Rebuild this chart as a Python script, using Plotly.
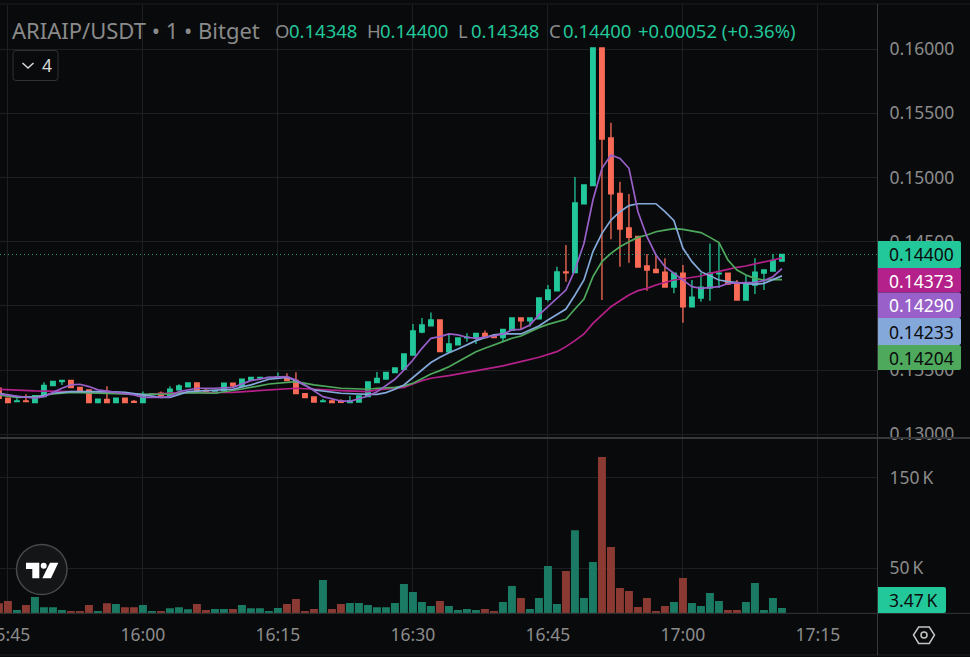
import pandas as pd
import plotly.graph_objects as go

DAY = "2024-01-01 "
times = pd.date_range(DAY + "15:44", DAY + "17:11", freq="1min")

opens = [
 0.13358,0.13280,0.13254,0.13259,0.13246,0.13293,0.13378,0.13409,0.13420,0.13365,
 0.13345,0.13246,0.13272,0.13246,0.13280,0.13256,0.13246,0.13311,0.13319,0.13298,
 0.13345,0.13368,0.13399,0.13342,0.13321,0.13339,0.13397,0.13373,0.13422,0.13438,
 0.13438,0.13441,0.13443,0.13420,0.13316,0.13290,0.13254,0.13259,0.13256,0.13246,
 0.13251,0.13293,0.13402,0.13430,0.13480,0.13506,0.13617,0.13796,0.13843,0.13890,
 0.13641,0.13695,0.13750,0.13750,0.13786,0.13768,0.13752,0.13809,0.13905,0.13882,
 0.13898,0.14051,0.14116,0.14264,0.14258,0.14795,0.14936,0.16008,0.15307,0.14876,
 0.14606,0.14541,0.14310,0.14284,0.14263,0.14146,0.14255,0.13991,0.14061,0.14138,
 0.14248,0.14255,0.14177,0.14045,0.14162,0.14255,0.14271,0.14348]
highs = [
 0.13358,0.13280,0.13280,0.13311,0.13300,0.13404,0.13412,0.13420,0.13420,0.13365,
 0.13345,0.13274,0.13373,0.13280,0.13280,0.13267,0.13332,0.13316,0.13332,0.13373,
 0.13389,0.13399,0.13399,0.13358,0.13339,0.13397,0.13397,0.13428,0.13443,0.13443,
 0.13443,0.13480,0.13474,0.13482,0.13316,0.13290,0.13274,0.13272,0.13272,0.13298,
 0.13298,0.13407,0.13485,0.13482,0.13516,0.13625,0.13859,0.13905,0.13947,0.13890,
 0.13778,0.13750,0.13786,0.13786,0.13807,0.13768,0.13817,0.13905,0.13905,0.13905,
 0.14061,0.14162,0.14305,0.14473,0.15003,0.14941,0.16008,0.16008,0.15426,0.14967,
 0.14871,0.14541,0.14403,0.14396,0.14370,0.14255,0.14318,0.14201,0.14258,0.14486,
 0.14486,0.14255,0.14201,0.14240,0.14370,0.14279,0.14403,0.14400]
lows = [
 0.13280,0.13246,0.13249,0.13249,0.13246,0.13293,0.13378,0.13384,0.13363,0.13332,
 0.13246,0.13246,0.13246,0.13246,0.13246,0.13243,0.13246,0.13311,0.13287,0.13298,
 0.13345,0.13368,0.13339,0.13324,0.13321,0.13339,0.13365,0.13373,0.13417,0.13422,
 0.13438,0.13441,0.13417,0.13316,0.13285,0.13251,0.13249,0.13246,0.13246,0.13246,
 0.13251,0.13293,0.13402,0.13430,0.13480,0.13506,0.13617,0.13786,0.13843,0.13643,
 0.13641,0.13695,0.13721,0.13703,0.13752,0.13752,0.13726,0.13809,0.13817,0.13838,
 0.13898,0.14033,0.14116,0.14188,0.14258,0.14795,0.14936,0.14045,0.14518,0.14305,
 0.14336,0.14302,0.14118,0.14258,0.14146,0.14097,0.13869,0.13991,0.14032,0.14040,
 0.14138,0.14170,0.14045,0.14045,0.14092,0.14123,0.14271,0.14348]
closes = [
 0.13280,0.13246,0.13259,0.13254,0.13300,0.13381,0.13412,0.13420,0.13363,0.13332,
 0.13246,0.13274,0.13246,0.13280,0.13246,0.13249,0.13311,0.13316,0.13300,0.13350,
 0.13376,0.13399,0.13339,0.13324,0.13339,0.13397,0.13376,0.13428,0.13443,0.13443,
 0.13443,0.13448,0.13417,0.13316,0.13285,0.13251,0.13259,0.13246,0.13249,0.13261,
 0.13298,0.13407,0.13435,0.13482,0.13516,0.13625,0.13804,0.13851,0.13890,0.13643,
 0.13703,0.13750,0.13755,0.13786,0.13752,0.13752,0.13817,0.13905,0.13882,0.13905,
 0.14061,0.14123,0.14264,0.14256,0.14801,0.14941,0.16008,0.15299,0.14871,0.14598,
 0.14533,0.14302,0.14279,0.14258,0.14146,0.14255,0.13991,0.14068,0.14146,0.14255,
 0.14255,0.14170,0.14045,0.14170,0.14263,0.14279,0.14354,0.14400]
volumes_k = [
 11,13.7,3.7,9.2,18,6.6,6.6,3.7,2.6,2.6,
 9.2,2.6,11,10.3,6.6,6.6,9.2,2.6,2.6,5.5,
 6.6,4.4,10.3,3.7,4.8,4.8,4.8,9.2,5.5,5.5,
 2.6,5.9,10.3,15.9,2.6,4.8,36.9,4.8,10.3,11.4,
 11.4,9.2,6.6,6.6,11.4,32.5,23.6,12.5,8.1,13.7,
 8.1,3.7,4.8,3.7,4.8,2.6,12.5,30.3,17,4.8,
 17,52.4,10.3,46.9,92,17,56.8,173,73.4,28,
 24.7,7,17,2.6,8.1,12.5,39,11.4,8.1,22.5,
 13.7,3.7,3.7,12.5,33.6,3.7,17,5.9]

ma_purple_t = ["15:44","15:48","15:49","15:51","15:52","15:53","15:54","15:55","15:57","15:59","16:00","16:02","16:03","16:04","16:06","16:08","16:10","16:12","16:14","16:16","16:17","16:18","16:20","16:22","16:23","16:25","16:26","16:27","16:28","16:29","16:30","16:31","16:32","16:33","16:34","16:35","16:36","16:37","16:38","16:39","16:40","16:41","16:42","16:43","16:44","16:45","16:46","16:47","16:48","16:49","16:50","16:51","16:52","16:53","16:54","16:55","16:56","16:57","16:58","16:59","17:00","17:01","17:02","17:03","17:04","17:05","17:06","17:07","17:08","17:09","17:10","17:11"]
ma_purple = [0.13313,0.13280,0.13293,0.13358,0.13384,0.13389,0.13371,0.13345,0.13326,0.13306,0.13287,0.13287,0.13293,0.13332,0.13358,0.13358,0.13365,0.13417,0.13443,0.13448,0.13422,0.13384,0.13293,0.13259,0.13256,0.13298,0.13330,0.13376,0.13428,0.13500,0.13578,0.13669,0.13747,0.13760,0.13781,0.13773,0.13755,0.13747,0.13755,0.13765,0.13781,0.13812,0.13817,0.13851,0.13929,0.13993,0.14058,0.14123,0.14279,0.14486,0.14824,0.15071,0.15174,0.15148,0.15071,0.14733,0.14538,0.14396,0.14305,0.14253,0.14201,0.14149,0.14136,0.14144,0.14149,0.14175,0.14175,0.14180,0.14183,0.14196,0.14227,0.14290]

ma_blue_t = ["15:44","15:46","15:48","15:50","15:52","15:56","15:58","16:00","16:02","16:03","16:05","16:07","16:10","16:12","16:14","16:16","16:17","16:19","16:22","16:25","16:26","16:27","16:28","16:29","16:30","16:31","16:32","16:33","16:34","16:35","16:36","16:37","16:38","16:39","16:40","16:41","16:42","16:43","16:44","16:45","16:46","16:47","16:48","16:49","16:50","16:51","16:52","16:53","16:54","16:55","16:56","16:57","16:58","16:59","17:00","17:01","17:02","17:03","17:04","17:05","17:06","17:07","17:08","17:09","17:10","17:11"]
ma_blue = [0.13319,0.13293,0.13287,0.13319,0.13332,0.13332,0.13326,0.13306,0.13287,0.13287,0.13332,0.13339,0.13350,0.13384,0.13428,0.13443,0.13417,0.13345,0.13319,0.13311,0.13310,0.13324,0.13350,0.13384,0.13443,0.13506,0.13558,0.13599,0.13635,0.13664,0.13695,0.13729,0.13752,0.13773,0.13781,0.13781,0.13781,0.13812,0.13843,0.13890,0.13930,0.13975,0.14084,0.14201,0.14422,0.14564,0.14668,0.14733,0.14780,0.14795,0.14795,0.14795,0.14733,0.14663,0.14448,0.14344,0.14266,0.14232,0.14201,0.14188,0.14180,0.14170,0.14167,0.14175,0.14206,0.14233]

ma_green_t = ["15:44","15:46","15:48","15:50","15:52","15:56","16:00","16:03","16:05","16:08","16:11","16:14","16:17","16:19","16:22","16:25","16:26","16:28","16:29","16:30","16:31","16:32","16:33","16:34","16:35","16:36","16:37","16:38","16:39","16:40","16:41","16:42","16:43","16:44","16:45","16:46","16:47","16:48","16:49","16:50","16:51","16:52","16:53","16:54","16:55","16:56","16:57","16:58","16:59","17:00","17:01","17:02","17:03","17:04","17:05","17:06","17:07","17:08","17:09","17:10","17:11"]
ma_green = [0.13306,0.13287,0.13293,0.13313,0.13326,0.13319,0.13311,0.13313,0.13324,0.13319,0.13352,0.13391,0.13409,0.13384,0.13358,0.13350,0.13358,0.13365,0.13376,0.13397,0.13436,0.13469,0.13495,0.13526,0.13565,0.13604,0.13643,0.13669,0.13695,0.13726,0.13747,0.13765,0.13799,0.13830,0.13855,0.13873,0.13895,0.13975,0.14052,0.14227,0.14344,0.14409,0.14460,0.14499,0.14533,0.14551,0.14577,0.14590,0.14601,0.14595,0.14585,0.14570,0.14533,0.14492,0.14357,0.14279,0.14240,0.14214,0.14201,0.14206,0.14204]

ma_magenta_t = ["15:44","15:48","15:52","15:56","16:00","16:04","16:10","16:14","16:17","16:22","16:25","16:26","16:29","16:30","16:31","16:32","16:34","16:36","16:38","16:40","16:42","16:44","16:46","16:47","16:48","16:49","16:50","16:51","16:52","16:53","16:54","16:55","16:56","16:57","16:58","16:59","17:00","17:01","17:02","17:03","17:04","17:05","17:06","17:07","17:08","17:09","17:10","17:11"]
ma_magenta = [0.13350,0.13337,0.13332,0.13326,0.13306,0.13324,0.13326,0.13345,0.13358,0.13339,0.13332,0.13345,0.13365,0.13391,0.13417,0.13436,0.13456,0.13482,0.13506,0.13532,0.13565,0.13599,0.13643,0.13682,0.13729,0.13781,0.13863,0.13928,0.13993,0.14040,0.14084,0.14118,0.14136,0.14162,0.14183,0.14201,0.14211,0.14219,0.14232,0.14253,0.14266,0.14284,0.14300,0.14310,0.14326,0.14344,0.14357,0.14373]

price_ticks = [0.13, 0.135, 0.14, 0.145, 0.15, 0.155, 0.16]
volume_ticks = [50, 150]
volume_tick_text = ["50\u2009K", "150\u2009K"]
last_price = 0.144
title_text = "ARIAIP/USDT • 1 • Bitget"
ohlc_labels = [("O", "0.14348", 275, 289), ("H", "0.14400", 367, 380), ("L", "0.14348", 458, 471), ("C", "0.14400", 549, 563)]
change_text = "+0.00052 (+0.36%)"
price_tags = [("0.14400", "#22c79a", "#0a0b0c", 254), ("0.14373", "#b5218a", "#ffffff", 280.5),
              ("0.14290", "#9860c8", "#ffffff", 305), ("0.14233", "#84a8d9", "#0a0b0c", 331.5),
              ("0.14204", "#4ea95c", "#0a0b0c", 357.5)]

W, H = 970, 657
BG = "#090a0b"
GRID = "#1d1f22"
SEP = "#36383b"
TXT = "#8c8c8c"
UP = "#22c79a"
DOWN = "#f96b57"
VUP = "#1b7a63"
VDOWN = "#8b3a33"
FONT = "Noto Sans"
FS = 17.5


def px(x):
    return x / W


def py(y):
    return 1 - y / H


fig = go.Figure()
fig.add_trace(go.Candlestick(
    x=times, open=opens, high=highs, low=lows, close=closes,
    increasing=dict(line=dict(color=UP, width=1.3), fillcolor=UP),
    decreasing=dict(line=dict(color=DOWN, width=1.3), fillcolor=DOWN),
    whiskerwidth=0, xaxis="x", yaxis="y", showlegend=False, hoverinfo="skip"))
for t, v, c in [(ma_magenta_t, ma_magenta, "#b5218a"), (ma_green_t, ma_green, "#4ea95c"),
                (ma_blue_t, ma_blue, "#84a8d9"), (ma_purple_t, ma_purple, "#9860c8")]:
    fig.add_trace(go.Scatter(x=[DAY + s for s in t], y=v, mode="lines",
                             line=dict(color=c, width=1.7), xaxis="x", yaxis="y",
                             showlegend=False, hoverinfo="skip"))
fig.add_trace(go.Bar(
    x=times, y=volumes_k,
    marker=dict(color=[VUP if c >= o else VDOWN for o, c in zip(opens, closes)], line_width=0),
    width=53000, xaxis="x2", yaxis="y2", showlegend=False, hoverinfo="skip"))

xrange = [DAY + "15:44:07", DAY + "17:21:37"]
axis_common = dict(gridcolor=GRID, gridwidth=1, showline=False, zeroline=False, automargin=False,
                   tickfont=dict(family=FONT, size=FS, color=TXT))
fig.update_layout(
    width=W, height=H, autosize=False, margin=dict(l=0, r=0, t=0, b=0),
    paper_bgcolor=BG, plot_bgcolor=BG, showlegend=False, boxgap=0.28, bargap=0.1,
    xaxis=dict(domain=[0, px(877.5)], range=xrange, type="date", anchor="y",
               tick0=DAY + "15:45", dtick=900000, showticklabels=False, ticks="",
               rangeslider=dict(visible=False), **axis_common),
    xaxis2=dict(domain=[0, px(877.5)], range=xrange, type="date", anchor="y2", matches="x",
                tick0=DAY + "15:45", dtick=900000, tickformat="%H:%M", ticks="", ticklen=0,
                ticklabelstandoff=9, ticklabeloverflow="allow", **axis_common),
    yaxis=dict(domain=[py(438), py(5)], range=[0.129705, 0.163427], side="right", anchor="x",
               tickvals=price_ticks, tickformat=".5f", ticks="", ticklabelstandoff=11,
               **axis_common),
    yaxis2=dict(domain=[py(613.3), py(439)], range=[0, 193], side="right", anchor="x2",
                tickvals=volume_ticks, ticktext=volume_tick_text, ticks="", ticklabelstandoff=11,
                **axis_common),
)

shapes = [
    dict(type="line", xref="x", yref="y", x0=xrange[0], x1=xrange[1], y0=last_price, y1=last_price,
         line=dict(color="rgba(34,199,154,0.8)", width=1, dash="1px,3px")),
]
for x0, y0, x1, y1, color, width in [
    (0, 4, 970, 4, GRID, 1), (0, 438, 970, 438, SEP, 2), (0, 613.3, 970, 613.3, SEP, 1),
    (0, 655, 970, 655, GRID, 1), (877.5, 4, 877.5, 655, SEP, 1)]:
    shapes.append(dict(type="line", xref="paper", yref="paper", x0=px(x0), x1=px(x1),
                       y0=py(y0), y1=py(y1), line=dict(color=color, width=width)))


def path(points, close=True):
    s = "M" + " L".join(f"{px(x):.5f},{py(y):.5f}" for x, y in points)
    return s + (" Z" if close else "")


def rrect(x0, y0, x1, y1, r):
    # rounded right corners only for tags
    return (f"M{px(x0):.5f},{py(y0):.5f} L{px(x1-r):.5f},{py(y0):.5f} "
            f"Q{px(x1):.5f},{py(y0):.5f} {px(x1):.5f},{py(y0+r):.5f} "
            f"L{px(x1):.5f},{py(y1-r):.5f} Q{px(x1):.5f},{py(y1):.5f} {px(x1-r):.5f},{py(y1):.5f} "
            f"L{px(x0):.5f},{py(y1):.5f} Z")


# price tags and volume tag backgrounds
tag_spans = [(241, 268), (268, 292.5), (292.5, 318), (318, 345), (345, 370)]
for (label, bg, fg, yc), (y0, y1) in zip(price_tags, tag_spans):
    shapes.append(dict(type="path", xref="paper", yref="paper", path=rrect(878, y0, 961, y1, 2),
                       fillcolor=bg, line_width=0, layer="above"))
shapes.append(dict(type="path", xref="paper", yref="paper", path=rrect(878, 587, 946, 613, 2),
                   fillcolor=UP, line_width=0, layer="above"))

# indicator button
shapes.append(dict(type="path", xref="paper", yref="paper",
                   path=("M%.5f,%.5f L%.5f,%.5f Q%.5f,%.5f %.5f,%.5f L%.5f,%.5f Q%.5f,%.5f %.5f,%.5f L%.5f,%.5f Q%.5f,%.5f %.5f,%.5f L%.5f,%.5f Q%.5f,%.5f %.5f,%.5f Z" % (
                       px(16), py(50.5), px(55), py(50.5), px(58), py(50.5), px(58), py(53.5),
                       px(58), py(77.5), px(58), py(80.5), px(55), py(80.5),
                       px(16), py(80.5), px(13), py(80.5), px(13), py(77.5),
                       px(13), py(53.5), px(13), py(50.5), px(16), py(50.5))),
                   fillcolor="#090a0b", line=dict(color="#303236", width=1), layer="above"))
shapes.append(dict(type="path", xref="paper", yref="paper",
                   path=path([(22.5, 63), (28, 68), (33.5, 63)], close=False),
                   line=dict(color="#d8d8d8", width=1.5), layer="above"))

# logo badge
shapes.append(dict(type="circle", xref="paper", yref="paper", x0=px(16.5), x1=px(67), y0=py(544.5), y1=py(594.5),
                   fillcolor="#141517", line=dict(color="#46484b", width=1.5), layer="above"))
for poly in ([(26, 562.7), (39.3, 562.7), (39.3, 578.3), (32.3, 578.3), (32.3, 569), (26, 569)],
             [(50, 562.7), (58.3, 562.7), (51, 578.3), (42.3, 578.3)]):
    shapes.append(dict(type="path", xref="paper", yref="paper", path=path(poly),
                       fillcolor="#ffffff", line_width=0, layer="above"))
shapes.append(dict(type="circle", xref="paper", yref="paper", x0=px(40.7), x1=px(46.7), y0=py(562.7), y1=py(568.7),
                   fillcolor="#ffffff", line_width=0, layer="above"))

# settings hexagon
shapes.append(dict(type="path", xref="paper", yref="paper",
                   path=path([(913.5, 635), (918.7, 627), (929.3, 627), (934.5, 635), (929.3, 643.5), (918.7, 643.5)]),
                   line=dict(color="#c4c4c4", width=1.5), layer="above"))
shapes.append(dict(type="circle", xref="paper", yref="paper", x0=px(921), x1=px(927), y0=py(632), y1=py(638),
                   line=dict(color="#c4c4c4", width=1.5), layer="above"))
fig.update_layout(shapes=shapes)


def note(text, x, y, color, size=FS, anchor="left"):
    return dict(text=text, x=px(x), y=py(y), xref="paper", yref="paper", xanchor=anchor, yanchor="middle",
                showarrow=False, font=dict(family=FONT, size=size, color=color), borderpad=0, borderwidth=0)


anns = [note(title_text, 12, 30, "#8a8a8a", 22)]
for key, val, xk, xv in ohlc_labels:
    anns.append(note(key, xk, 30, "#8a8a8a", 18.5))
    anns.append(note(val, xv, 30, UP, 18.5))
anns.append(note(change_text, 638, 30, UP, 18.5))
anns.append(note("4", 42, 65, "#d8d8d8", 17.5))
for label, bg, fg, yc in price_tags:
    anns.append(note(label, 889, yc, fg))
anns.append(note("3.47\u2009K", 889, 600, "#0a0b0c"))
fig.update_layout(annotations=anns)

fig.write_html("out.html", config=dict(displayModeBar=False),
               post_script="document.body.style.margin='0';document.body.style.overflow='hidden';document.body.style.background='#090a0b';")
